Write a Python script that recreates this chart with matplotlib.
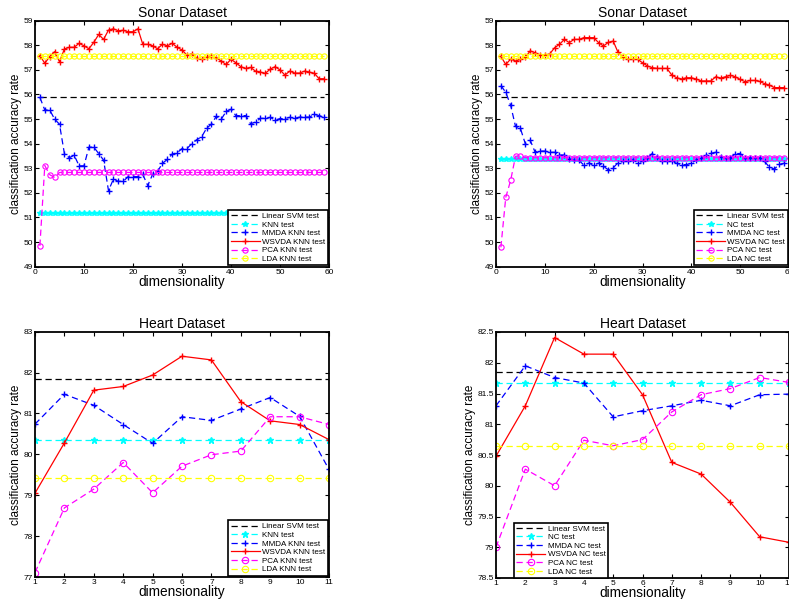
import numpy as np
import matplotlib
matplotlib.use("Agg")
import matplotlib.pyplot as plt

plt.rcParams['font.family'] = ['Liberation Sans', 'DejaVu Sans']

# ---- Sonar data (dimensionality 1..59)
sonar_dims = list(range(1, 60))
sonar_svm = 55.9

knn_sonar = 51.17
lda_knn_sonar = 57.55
pca_knn_sonar = [49.85, 53.11, 52.74, 52.63] + [52.83] * 55
mmda_knn_sonar = [55.88, 55.37, 55.37, 55.0, 54.79, 53.6, 53.43, 53.53, 53.1, 53.1,
                  53.86, 53.86, 53.6, 53.33, 52.09, 52.56, 52.47, 52.47, 52.66, 52.66,
                  52.66, 52.75, 52.3, 52.75, 52.87, 53.2, 53.36, 53.58, 53.63, 53.8,
                  53.8, 54.0, 54.16, 54.28, 54.62, 54.8, 55.11, 54.99, 55.31, 55.4,
                  55.14, 55.14, 55.14, 54.81, 54.88, 55.03, 55.03, 55.07, 54.96, 55.02,
                  55.02, 55.07, 55.04, 55.08, 55.08, 55.08, 55.19, 55.14, 55.08]
wsvda_knn_sonar = [57.58, 57.27, 57.54, 57.74, 57.33, 57.85, 57.92, 57.92, 58.08, 57.98,
                   57.86, 58.12, 58.44, 58.24, 58.62, 58.67, 58.59, 58.61, 58.55, 58.55,
                   58.67, 58.04, 58.04, 57.98, 57.86, 58.04, 57.98, 58.08, 57.92, 57.81,
                   57.6, 57.65, 57.47, 57.43, 57.54, 57.56, 57.5, 57.36, 57.22, 57.43,
                   57.29, 57.13, 57.06, 57.1, 56.95, 56.91, 56.86, 57.03, 57.13, 57.0,
                   56.79, 56.95, 56.87, 56.87, 56.95, 56.91, 56.86, 56.64, 56.64]

nc_sonar = 53.36
lda_nc_sonar = 57.55
pca_nc_sonar = [49.79, 51.82, 52.51, 53.49, 53.51] + [53.43] * 54
mmda_nc_sonar = [56.36, 56.09, 55.56, 54.7, 54.62, 54.0, 54.14, 53.66, 53.7, 53.7,
                 53.65, 53.65, 53.54, 53.54, 53.39, 53.32, 53.32, 53.13, 53.21, 53.13,
                 53.21, 53.08, 52.94, 53.02, 53.23, 53.28, 53.28, 53.34, 53.23, 53.28,
                 53.42, 53.6, 53.47, 53.28, 53.28, 53.28, 53.2, 53.15, 53.15, 53.2,
                 53.34, 53.42, 53.53, 53.61, 53.65, 53.47, 53.42, 53.42, 53.6, 53.6,
                 53.42, 53.42, 53.42, 53.42, 53.28, 53.04, 52.97, 53.16, 53.2]
wsvda_nc_sonar = [57.55, 57.22, 57.44, 57.36, 57.43, 57.51, 57.77, 57.7, 57.6, 57.6,
                  57.65, 57.9, 58.04, 58.24, 58.11, 58.24, 58.24, 58.31, 58.31, 58.31,
                  58.11, 57.97, 58.12, 58.17, 57.71, 57.54, 57.43, 57.43, 57.43, 57.29,
                  57.16, 57.09, 57.06, 57.06, 57.06, 56.79, 56.68, 56.63, 56.68, 56.68,
                  56.63, 56.55, 56.55, 56.55, 56.72, 56.67, 56.72, 56.78, 56.72, 56.61,
                  56.52, 56.57, 56.57, 56.53, 56.44, 56.38, 56.28, 56.28, 56.28]

# ---- Heart data (dimensionality 1..11)
heart_dims = list(range(1, 12))
heart_svm = 81.85

knn_heart = 80.36
lda_knn_heart = 79.43
mmda_knn_heart = [80.74, 81.47, 81.2, 80.73, 80.27, 80.92, 80.83, 81.11, 81.39, 80.93, 79.63]
wsvda_knn_heart = [79.05, 80.28, 81.57, 81.66, 81.94, 82.4, 82.31, 81.29, 80.82, 80.73, 80.36]
pca_knn_heart = [77.11, 78.69, 79.15, 79.8, 79.06, 79.71, 79.99, 80.08, 80.92, 80.92, 80.73]

nc_heart = 81.67
lda_nc_heart = 80.65
mmda_nc_heart = [81.3, 81.95, 81.76, 81.67, 81.12, 81.22, 81.3, 81.39, 81.3, 81.48, 81.49]
wsvda_nc_heart = [80.48, 81.3, 82.41, 82.14, 82.14, 81.48, 80.38, 80.19, 79.73, 79.17, 79.08]
pca_nc_heart = [79.0, 80.27, 80.0, 80.74, 80.65, 80.75, 81.2, 81.48, 81.58, 81.76, 81.68]

W, H = 789, 599
fig = plt.figure(figsize=(W / 100, H / 100), dpi=100)

DASH = (5, 3)


def make_axes(px_left, px_top, px_right, px_bottom):
    return fig.add_axes([px_left / W, 1 - px_bottom / H,
                         (px_right - px_left) / W, (px_bottom - px_top) / H])


def draw_panel(ax, x, svm, base, lda, mmda, wsvda, pca, clf, ms_o, ms_p):
    n = len(x)
    ax.plot(x, [svm] * n, color='black', lw=0.9, dashes=DASH, label='Linear SVM test')
    ax.plot(x, [base] * n, color='cyan', lw=0.9, dashes=DASH, marker='*',
            ms=ms_p, mfc='cyan', mec='cyan', label=clf + ' test')
    ax.plot(x, mmda, color='blue', lw=0.9, dashes=DASH, marker='+', ms=ms_p,
            mew=1.0, label='MMDA ' + clf + ' test')
    ax.plot(x, wsvda, color='red', lw=0.9, marker='+', ms=ms_p, mew=1.0,
            label='WSVDA ' + clf + ' test')
    ax.plot(x, pca, color='magenta', lw=0.9, dashes=DASH, marker='o', ms=ms_o,
            mfc='none', mew=0.8, label='PCA ' + clf + ' test')
    ax.plot(x, [lda] * n, color='yellow', lw=0.9, dashes=DASH, marker='o', ms=ms_o,
            mfc='none', mew=0.8, label='LDA ' + clf + ' test')
    ax.tick_params(direction='in', length=3, width=0.8, labelsize=6,
                   top=True, right=True, pad=1.5)
    for s in ax.spines.values():
        s.set_linewidth(1.3)
    ax.set_xlabel('dimensionality', fontsize=9.8, labelpad=-0.5)
    ax.set_ylabel('classification accuracy rate', fontsize=8.5, labelpad=1)


def style_legend(ax, **kw):
    leg = ax.legend(fontsize=5.8, handlelength=3.6, labelspacing=0.12,
                    borderpad=0.3, handletextpad=0.3, fancybox=False,
                    framealpha=1, edgecolor='black', **kw)
    leg.get_frame().set_linewidth(1.2)


# top-left: Sonar KNN
ax1 = make_axes(35, 20.7, 329, 266.7)
draw_panel(ax1, sonar_dims, sonar_svm, knn_sonar, lda_knn_sonar, mmda_knn_sonar,
           wsvda_knn_sonar, pca_knn_sonar, 'KNN', 3.8, 4.2)
ax1.set_xlim(0, 60)
ax1.set_ylim(49, 59)
ax1.set_yticks(range(49, 60))
ax1.set_title('Sonar Dataset', fontsize=10, pad=3)
style_legend(ax1, loc='lower right', borderaxespad=0.15)

# top-right: Sonar NC
ax2 = make_axes(496, 20.7, 789, 266.7)
draw_panel(ax2, sonar_dims, sonar_svm, nc_sonar, lda_nc_sonar, mmda_nc_sonar,
           wsvda_nc_sonar, pca_nc_sonar, 'NC', 3.8, 4.2)
ax2.set_xlim(0, 60)
ax2.set_ylim(49, 59)
ax2.set_yticks(range(49, 60))
ax2.set_title('Sonar Dataset', fontsize=10, pad=3)
style_legend(ax2, loc='lower right', borderaxespad=0.15)

# bottom-left: Heart KNN
ax3 = make_axes(35, 331.7, 329, 577)
draw_panel(ax3, heart_dims, heart_svm, knn_heart, lda_knn_heart, mmda_knn_heart,
           wsvda_knn_heart, pca_knn_heart, 'KNN', 4.6, 5)
ax3.set_xlim(1, 11)
ax3.set_ylim(77, 83)
ax3.set_xticks(heart_dims)
ax3.set_title('Heart Dataset', fontsize=10, pad=3)
style_legend(ax3, loc='lower right', borderaxespad=0.15)

# bottom-right: Heart NC
ax4 = make_axes(496, 332, 789, 578)
draw_panel(ax4, heart_dims, heart_svm, nc_heart, lda_nc_heart, mmda_nc_heart,
           wsvda_nc_heart, pca_nc_heart, 'NC', 4.6, 5)
ax4.set_xlim(1, 11)
ax4.set_ylim(78.5, 82.5)
ax4.set_xticks(heart_dims)
ax4.set_yticks(np.arange(78.5, 82.51, 0.5))
ax4.yaxis.set_major_formatter(matplotlib.ticker.FormatStrFormatter('%g'))
ax4.set_title('Heart Dataset', fontsize=10, pad=3)
style_legend(ax4, loc='lower left', bbox_to_anchor=(18 / 293, 0), borderaxespad=0)

fig.savefig('out.png', dpi=100)
